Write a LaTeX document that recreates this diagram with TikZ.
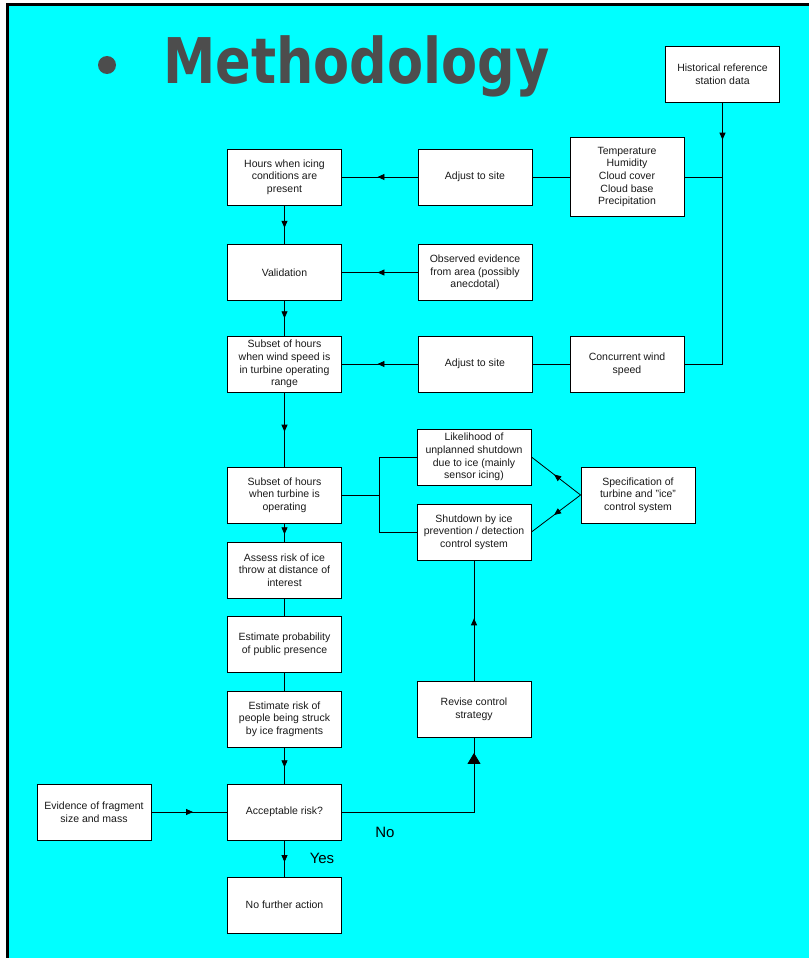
\documentclass[tikz,border=0pt]{standalone}
\usepackage{fontspec}
\setmainfont{Liberation Sans}
\newfontfamily\titlefont{DejaVu Sans}
\usetikzlibrary{arrows.meta,decorations.markings,calc}
\definecolor{bgcyan}{HTML}{00FFFF}
\definecolor{titlegrey}{HTML}{4D4D4D}
\definecolor{txt}{HTML}{1A1A1A}
\tikzset{
  box/.style={draw=black, line width=0.9pt, fill=white, minimum width=114pt, minimum height=56pt,
    inner sep=2pt, align=center, text=txt, font=\fontsize{10.5}{12.7}\selectfont},
  conn/.style={draw=black, line width=0.8pt},
  midarrow/.style={postaction={decorate}, decoration={markings,
    mark=at position #1 with {\arrow{Triangle[length=7pt,width=6pt]}}}},
  midarrow/.default=0.5,
  bigarrow/.style={postaction={decorate}, decoration={markings,
    mark=at position -15pt with {\arrow{Triangle[length=11pt,width=13pt]}}}},
  lbl/.style={font=\fontsize{15}{18}\selectfont, text=black, inner sep=0pt}
}
\begin{document}
\begin{tikzpicture}[x=1pt,y=-1pt]
\useasboundingbox (0,0) rectangle (809,958);
\fill[white] (0,0) rectangle (809,958);
\fill[black] (6,3) rectangle (809,958);
\fill[bgcyan] (9,6) rectangle (809,958);
% title
\fill[titlegrey] (107,65) circle (9);
\node[anchor=base west, inner sep=0pt, text=titlegrey, font=\titlefont\bfseries\fontsize{63}{70}\selectfont] (title) at (163,83) {\scalebox{0.834}[1]{Methodology}};
% boxes
\node[box] (hist) at (722.5,74) {Historical reference\\station data};
\node[box, minimum height=79pt] (temp) at (627,177) {Temperature\\Humidity\\Cloud cover\\Cloud base\\Precipitation};
\node[box] (adj1) at (475,177) {Adjust to site};
\node[box] (hours) at (284.5,177) {Hours when icing\\conditions are\\present};
\node[box] (valid) at (284.5,272.5) {Validation};
\node[box] (obs) at (475,272.5) {Observed evidence\\from area (possibly\\anecdotal)};
\node[box] (subwind) at (284.5,364) {Subset of hours\\when wind speed is\\in turbine operating\\range};
\node[box] (adj2) at (475,364) {Adjust to site};
\node[box] (concur) at (627,364) {Concurrent wind\\speed};
\node[box] (likeli) at (474,457) {Likelihood of\\unplanned shutdown\\due to ice (mainly\\sensor icing)};
\node[box] (subop) at (284.5,495) {Subset of hours\\when turbine is\\operating};
\node[box] (spec) at (638,495) {Specification of\\turbine and "ice"\\control system};
\node[box] (shut) at (474,532) {Shutdown by ice\\prevention / detection\\control system};
\node[box] (assess) at (284.5,570) {Assess risk of ice\\throw at distance of\\interest};
\node[box] (estprob) at (284.5,644) {Estimate probability\\of public presence};
\node[box] (estrisk) at (284.5,719) {Estimate risk of\\people being struck\\by ice fragments};
\node[box] (revise) at (474,709.5) {Revise control\\strategy};
\node[box] (evid) at (94,812) {Evidence of fragment\\size and mass};
\node[box] (accept) at (284.5,812) {Acceptable risk?};
\node[box] (nofurther) at (284.5,905) {No further action};
% labels
\node[lbl] (no) at (385,832) {No};
\node[lbl] (yes) at (322,858) {Yes};
% connectors
\coordinate (j1) at (hist.south |- temp.east);
\coordinate (j2) at (hist.south |- concur.east);
\coordinate (j3) at (379,495);
\draw[conn, midarrow=0.5] (hist.south) -- (j1);
\draw[conn] (j1) -- (j2) -- (concur.east);
\draw[conn] (j1) -- (temp.east);
\draw[conn] (temp.west) -- (adj1.east);
\draw[conn, midarrow=0.53] (adj1.west) -- (hours.east);
\draw[conn, midarrow=0.58] (hours.south) -- (valid.north);
\draw[conn, midarrow=0.53] (obs.west) -- (valid.east);
\draw[conn, midarrow=0.5] (valid.south) -- (subwind.north);
\draw[conn] (concur.west) -- (adj2.east);
\draw[conn, midarrow=0.53] (adj2.west) -- (subwind.east);
\draw[conn, midarrow=0.53] (subwind.south) -- (subop.north);
\draw[conn] (subop.east) -- (j3);
\draw[conn] (j3) |- (likeli.west);
\draw[conn] (j3) |- (shut.west);
\draw[conn, midarrow=0.54] (spec.west) -- (likeli.east);
\draw[conn, midarrow=0.54] (spec.west) -- (shut.east);
\draw[conn, midarrow=0.6] (subop.south) -- (assess.north);
\draw[conn] (assess.south) -- (estprob.north);
\draw[conn] (estprob.south) -- (estrisk.north);
\draw[conn, midarrow=0.55] (estrisk.south) -- (accept.north);
\draw[conn, midarrow=0.55] (evid.east) -- (accept.west);
\draw[conn, midarrow=0.6] (accept.south) -- (nofurther.north);
\draw[conn, midarrow=0.52] (revise.north) -- (shut.south);
\draw[conn, bigarrow] (accept.east) -| (revise.south);
\end{tikzpicture}
\end{document}
